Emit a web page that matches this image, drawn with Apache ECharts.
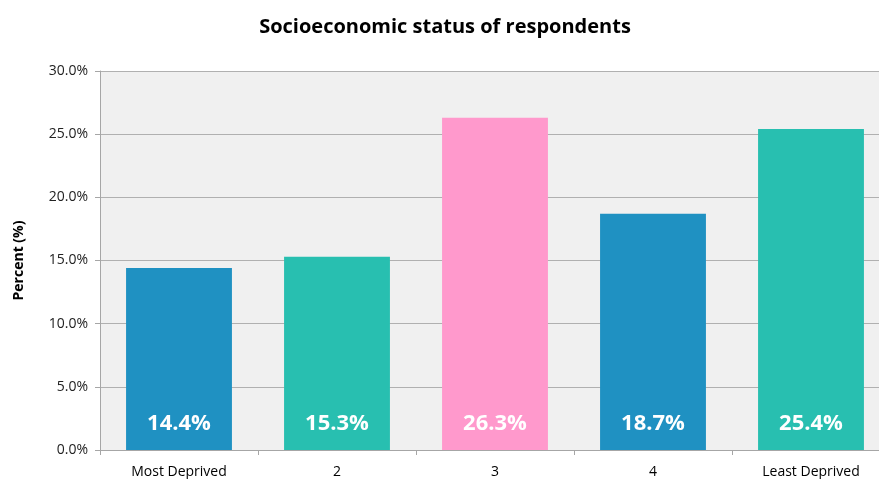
<!DOCTYPE html>
<html>
<head>
<meta charset="utf-8">
<script src="https://cdn.jsdelivr.net/npm/echarts@6/dist/echarts.min.js"></script>
<style>
  html, body { margin: 0; padding: 0; background: #fff; overflow: hidden; }
  /* plot runs a little past the right edge of the window, like the original */
  #chart { width: 890px; height: 479px; }
</style>
</head>
<body>
<div id="chart"></div>
<script>
// data
var categories = ['Most Deprived', '2', '3', '4', 'Least Deprived']
var percents = [14.4, 15.3, 26.3, 18.7, 25.4]
var barColors = ['#1f91c2', '#28bfb0', '#ff99cc', '#1f91c2', '#28bfb0']
var yTicks = [0, 5, 10, 15, 20, 25, 30]

var fontFam = '"Open Sans", "Liberation Sans", sans-serif'

var chart = echarts.init(document.getElementById('chart'))
chart.setOption({
  animation: false,
  title: {
    text: 'Socioeconomic status of respondents',
    left: 'center',
    top: 12,
    textStyle: { fontFamily: fontFam, fontSize: 20, fontWeight: 'bold', color: '#000' }
  },
  grid: {
    left: 100,
    top: 71,
    width: 790,
    height: 379,
    show: true,
    backgroundColor: '#f0f0f0',
    borderWidth: 0
  },
  xAxis: {
    type: 'category',
    data: categories,
    axisLine: { lineStyle: { color: '#a6a6a6', width: 1 } },
    axisTick: { show: true, length: 5, lineStyle: { color: '#a6a6a6' } },
    axisLabel: { fontFamily: fontFam, fontSize: 14, color: '#000', margin: 15 }
  },
  yAxis: {
    type: 'value',
    min: yTicks[0],
    max: yTicks[yTicks.length - 1],
    interval: 5,
    name: 'Percent (%)',
    nameLocation: 'middle',
    nameGap: 74,
    nameTextStyle: { fontFamily: fontFam, fontSize: 14, fontWeight: 'bold', color: '#000' },
    axisLine: { show: true, lineStyle: { color: '#a6a6a6' } },
    axisTick: { show: true, length: 5, lineStyle: { color: '#a6a6a6' } },
    splitLine: { lineStyle: { color: '#b0b0b0', width: 1 } },
    axisLabel: {
      fontFamily: fontFam, fontSize: 14, color: '#222', margin: 12,
      formatter: function (v) { return v.toFixed(1) + '%' }
    }
  },
  series: [{
    type: 'bar',
    barCategoryGap: '33%',
    data: percents.map(function (v, i) {
      return { value: v, itemStyle: { color: barColors[i] } }
    }),
    label: {
      show: true,
      position: 'insideBottom',
      distance: 15,
      fontFamily: fontFam,
      fontSize: 22,
      fontWeight: 'bold',
      color: '#fff',
      formatter: function (p) { return p.value.toFixed(1) + '%' }
    }
  }]
})
</script>
</body>
</html>
